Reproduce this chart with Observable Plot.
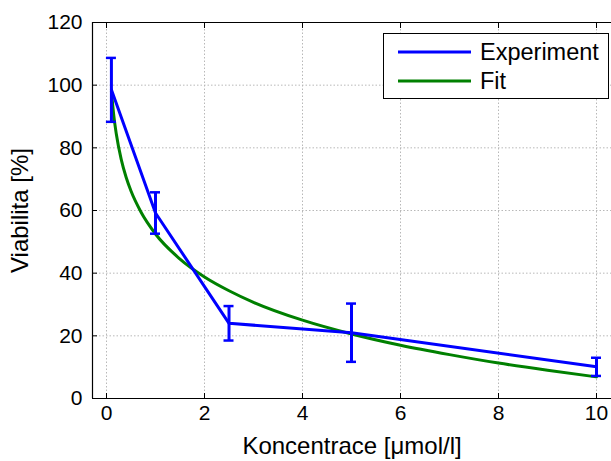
<!DOCTYPE html>
<html><head><meta charset="utf-8">
<script src="https://cdn.jsdelivr.net/npm/d3@7"></script>
<script src="https://cdn.jsdelivr.net/npm/@observablehq/plot@0.6"></script>
<style>
body{margin:0;background:#fff}
#wrap{position:relative;width:611px;height:461px;overflow:hidden;font-family:"Liberation Sans",Arial,sans-serif}
#legend{position:absolute;left:383px;top:33px;width:226px;height:66px;border:1px solid #000;background:#fff;box-sizing:border-box}
</style>
</head><body><div id="wrap"></div>
<script>
// Experiment data (mean ± error)
const expX = [0.1, 1, 2.5, 5, 10];
const expY = [98.5, 59.2, 24.0, 21.0, 10.1];
const expErr = [10.2, 6.6, 5.5, 9.3, 2.9];

// Fit curve
const fitX = [0.1, 0.15, 0.2, 0.3, 0.4, 0.5, 0.7, 1, 1.5, 2, 2.5, 3, 4, 5, 6, 7, 8, 9, 10];
const fitY = [98.1, 90.1, 84.4, 76.3, 70.6, 66.2, 59.6, 52.5, 44.5, 38.8, 34.4, 30.7, 25.0, 20.6, 17.0, 14.0, 11.3, 9.0, 6.9];

const xTicks = [0, 2, 4, 6, 8, 10];
const yTicks = [0, 20, 40, 60, 80, 100, 120];
const xDomain = [-0.286, 10.306];
const yDomain = [0, 120];

const seriesNames = ["Experiment", "Fit"];
const seriesColors = ["#0000ff", "#008000"];

const exp = expX.map((x, i) => ({x, y: expY[i], lo: expY[i] - expErr[i], hi: expY[i] + expErr[i]}));
const fit = fitX.map((x, i) => ({x, y: fitY[i]}));

const gridStyle = {stroke: "#b8b8b8", strokeOpacity: 1, strokeDasharray: "1.5,2", strokeWidth: 1};

const chart = Plot.plot({
  width: 611, height: 461,
  marginLeft: 92, marginRight: 0, marginTop: 22, marginBottom: 63,
  style: {fontFamily: "'Liberation Sans', Arial, sans-serif", fontSize: "21px", color: "#000", background: "#fff", overflow: "visible"},
  x: {domain: xDomain},
  y: {domain: yDomain},
  marks: [
    Plot.gridX(xTicks, gridStyle),
    Plot.gridY(yTicks, gridStyle),
    Plot.ruleY([yDomain[0], yDomain[1]], {stroke: "#000", strokeWidth: 1.2}),
    Plot.ruleX([xDomain[0]], {stroke: "#000", strokeWidth: 1.2}),
    Plot.axisX(xTicks, {anchor: "bottom", tickSize: 5, dy: -5, fill: "none", label: null}),
    Plot.axisX(xTicks, {anchor: "top", tickSize: 5, dy: 5, fill: "none", label: null}),
    Plot.axisY(yTicks, {anchor: "left", tickSize: 5, dx: 5, fill: "none", label: null}),
    Plot.axisX(xTicks, {anchor: "bottom", tickSize: 0, tickPadding: 7, fontSize: 21, label: null}),
    Plot.axisY(yTicks, {anchor: "left", tickSize: 0, tickPadding: 10, fontSize: 21, label: null}),
    Plot.axisX([], {anchor: "bottom", tickSize: 0, fontSize: 24, label: "Koncentrace [μmol/l]", labelAnchor: "center", labelArrow: "none", labelOffset: 55}),
    Plot.axisY([], {anchor: "left", tickSize: 0, fontSize: 24, label: "Viabilita [%]", labelAnchor: "center", labelArrow: "none", labelOffset: 82}),
    Plot.line(fit, {x: "x", y: "y", stroke: seriesColors[1], strokeWidth: 3, curve: "monotone-x"}),
    Plot.line(exp, {x: "x", y: "y", stroke: seriesColors[0], strokeWidth: 3}),
    Plot.ruleX(exp, {x: "x", y1: "lo", y2: "hi", stroke: seriesColors[0], strokeWidth: 3}),
    Plot.ruleY(exp, {y: "hi", x1: "x", x2: "x", insetLeft: -5, insetRight: -5, stroke: seriesColors[0], strokeWidth: 2.5}),
    Plot.ruleY(exp, {y: "lo", x1: "x", x2: "x", insetLeft: -5, insetRight: -5, stroke: seriesColors[0], strokeWidth: 2.5})
  ]
});

const wrap = document.getElementById("wrap");
wrap.appendChild(chart);

// Legend box
const legend = document.createElement("div");
legend.id = "legend";
const ns = "http://www.w3.org/2000/svg";
const lsvg = document.createElementNS(ns, "svg");
lsvg.setAttribute("width", 224);
lsvg.setAttribute("height", 64);
seriesNames.forEach((name, i) => {
  const cy = 18 + i * 29;
  const ln = document.createElementNS(ns, "line");
  ln.setAttribute("x1", 14); ln.setAttribute("x2", 87);
  ln.setAttribute("y1", cy); ln.setAttribute("y2", cy);
  ln.setAttribute("stroke", seriesColors[i]); ln.setAttribute("stroke-width", 3);
  lsvg.appendChild(ln);
  const t = document.createElementNS(ns, "text");
  t.setAttribute("x", 96); t.setAttribute("y", cy);
  t.setAttribute("dy", "0.35em");
  t.setAttribute("font-family", "'Liberation Sans', Arial, sans-serif");
  t.setAttribute("font-size", 23.5);
  t.textContent = name;
  lsvg.appendChild(t);
});
legend.appendChild(lsvg);
wrap.appendChild(legend);
</script>
</body></html>
